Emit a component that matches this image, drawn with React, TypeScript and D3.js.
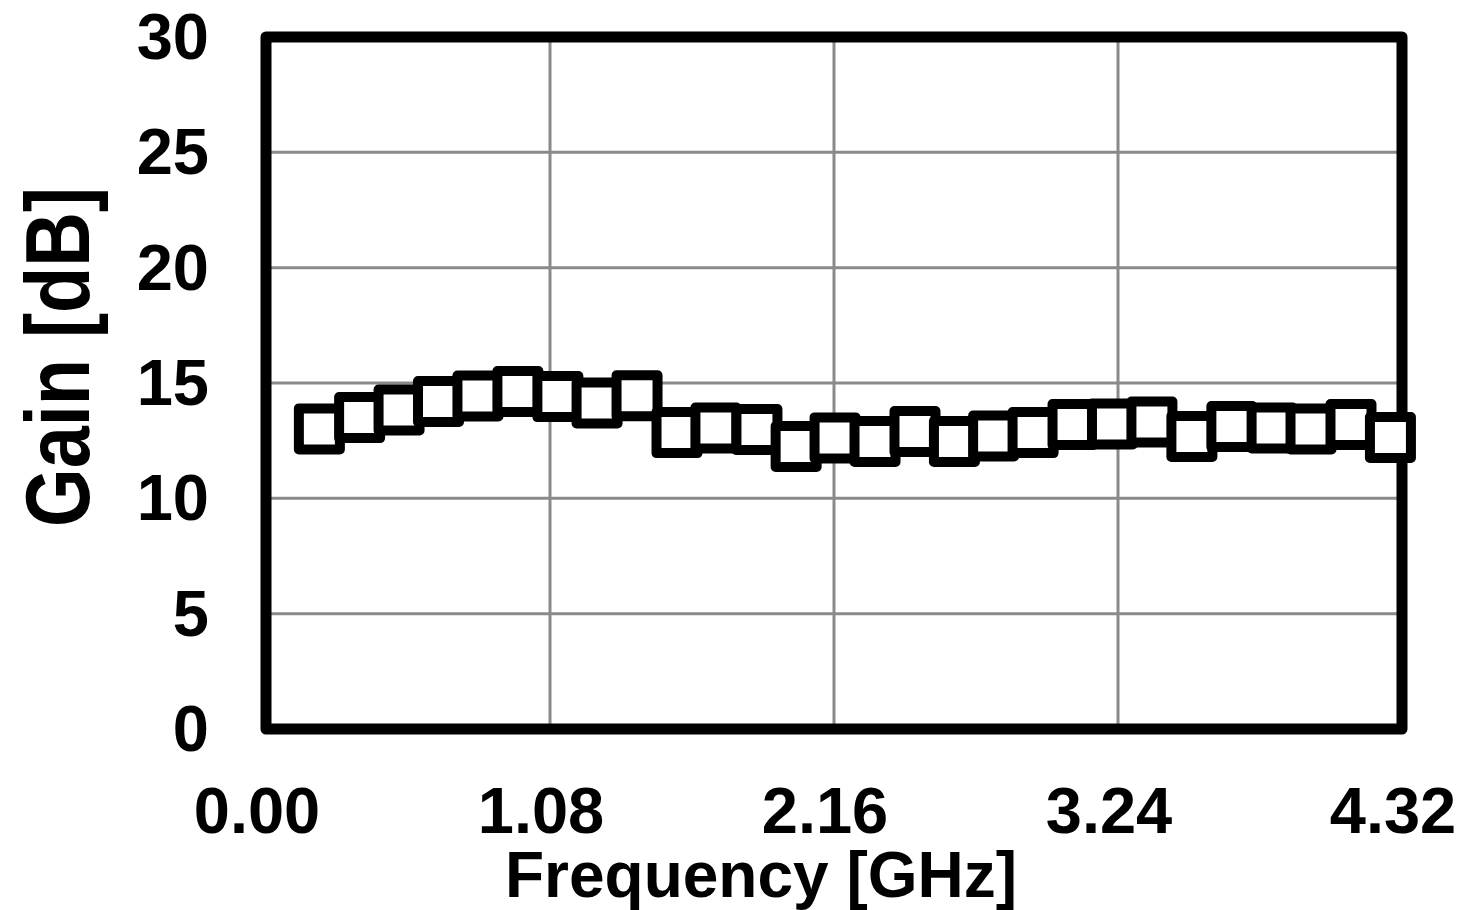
import React from "react";
import * as d3 from "d3";

const freqGHz = [0.203, 0.356, 0.506, 0.656, 0.806, 0.958, 1.11, 1.259, 1.411, 1.563, 1.711, 1.867, 2.016, 2.164, 2.316, 2.468, 2.618, 2.767, 2.917, 3.069, 3.219, 3.369, 3.521, 3.673, 3.826, 3.974, 4.126, 4.276];
const gainDb = [13.01, 13.5, 13.83, 14.2, 14.44, 14.63, 14.41, 14.13, 14.45, 12.85, 13.05, 12.98, 12.25, 12.62, 12.46, 12.9, 12.46, 12.7, 12.85, 13.2, 13.22, 13.31, 12.68, 13.11, 13.05, 13.01, 13.2, 12.64];
const xTicks = [0, 1.08, 2.16, 3.24, 4.32];
const yTicks = [0, 5, 10, 15, 20, 25, 30];

export default function App() {
  const W = 1464, H = 910;
  const left = 266, right = 1402, top = 37, bottom = 729;
  const x = d3.scaleLinear().domain([0, 4.32]).range([left, right]);
  const y = d3.scaleLinear().domain([0, 30]).range([bottom, top]);
  const font = "'Liberation Sans', Arial, sans-serif";
  const ms = 41;
  return (
    <svg width={W} height={H} style={{ position: "absolute", left: 0, top: 0, background: "#fff" }}>
      <rect x={0} y={0} width={W} height={H} fill="#fff" />
      {yTicks.slice(1, -1).map((t) => (
        <line key={"gy" + t} x1={left} x2={right} y1={y(t)} y2={y(t)} stroke="#8a8a8a" strokeWidth={3} />
      ))}
      {xTicks.slice(1, -1).map((t) => (
        <line key={"gx" + t} x1={x(t)} x2={x(t)} y1={top} y2={bottom} stroke="#8a8a8a" strokeWidth={3} />
      ))}
      <rect x={left} y={top} width={right - left} height={bottom - top} fill="none" stroke="#000" strokeWidth={11} strokeLinejoin="round" />
      {freqGHz.map((f, i) => (
        <rect key={"m" + i} x={x(f) - ms / 2} y={y(gainDb[i]) - ms / 2} width={ms} height={ms} fill="#fff" stroke="#000" strokeWidth={10} strokeLinejoin="round" />
      ))}
      {yTicks.map((t) => (
        <text key={"ty" + t} x={209} y={y(t) + 22} textAnchor="end" fontFamily={font} fontWeight="bold" fontSize={65} fill="#000">{t}</text>
      ))}
      {xTicks.map((t) => (
        <text key={"tx" + t} x={x(t) - 9} y={833} textAnchor="middle" fontFamily={font} fontWeight="bold" fontSize={65} fill="#000">{t.toFixed(2)}</text>
      ))}
      <text x={761} y={897} textAnchor="middle" fontFamily={font} fontWeight="bold" fontSize={64} fill="#000">Frequency [GHz]</text>
      <text transform="translate(89,357) rotate(-90)" textAnchor="middle" fontFamily={font} fontWeight="bold" fontSize={90} textLength={340} lengthAdjust="spacingAndGlyphs" fill="#000">Gain [dB]</text>
    </svg>
  );
}
